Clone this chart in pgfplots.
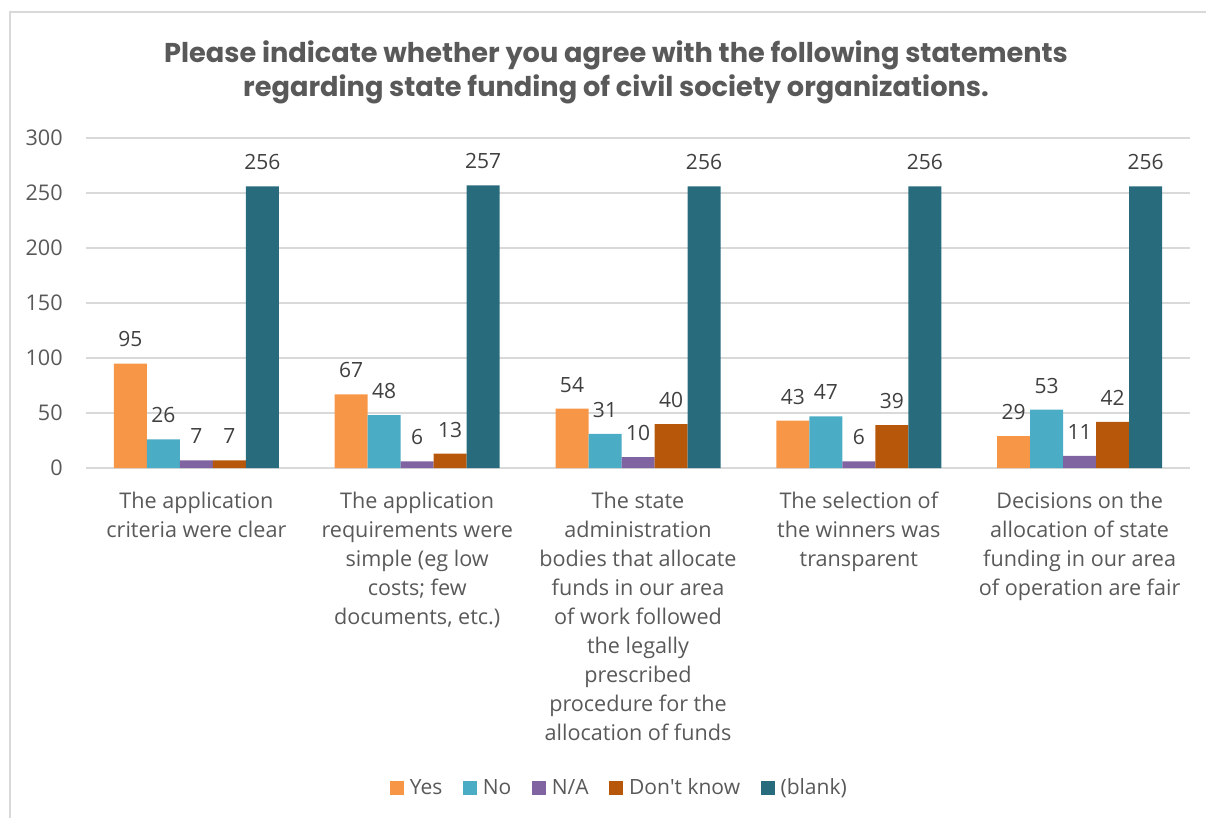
\documentclass[border=0pt]{standalone}
\usepackage{pgfplots}
\pgfplotsset{compat=1.18}
\usepackage{fontspec}
\setmainfont{Open Sans}
\newfontfamily\titlefont{Poppins}

\definecolor{cYes}{HTML}{F79646}
\definecolor{cNo}{HTML}{4BACC6}
\definecolor{cNA}{HTML}{8064A2}
\definecolor{cDK}{HTML}{B7570A}
\definecolor{cBlank}{HTML}{276B7C}
\definecolor{txt}{HTML}{595959}
\definecolor{lbl}{HTML}{404040}
\definecolor{grd}{HTML}{D9D9D9}

\begin{document}
\begin{tikzpicture}
% picture frame: 1 px of the reference = 0.5bp, plot corner at px (86,468)
\useasboundingbox (-43bp,-175bp) rectangle (560bp,234bp);
\draw[grd, line width=0.8bp] (-38bp,-180bp) -- (-38bp,228bp) -- (570bp,228bp);

\node[font={\titlefont\bfseries\fontsize{13.6bp}{17bp}\selectfont}, text=txt, align=center]
  at (265bp,198bp) {Please indicate whether you agree with the following statements\\regarding state funding of civil society organizations.};

\begin{axis}[
    at={(0,0)}, anchor=south west,
    scale only axis,
    width=552bp, height=165bp,
    ybar=0pt, bar width=16.5bp,
    xmin=-0.5, xmax=4.5,
    ymin=0, ymax=300,
    ytick={0,50,...,300},
    xtick=data,
    xticklabels={
      {The application\\criteria were clear},
      {The application\\requirements were\\simple (eg low\\costs; few\\documents, etc.)},
      {The state\\administration\\bodies that allocate\\funds in our area\\of work followed\\the legally\\prescribed\\procedure for the\\allocation of funds},
      {The selection of\\the winners was\\transparent},
      {Decisions on the\\allocation of state\\funding in our area\\of operation are fair}},
    major tick length=0pt,
    axis line style={draw=none},
    ymajorgrids, grid style={grd, line width=0.8bp},
    /pgf/number format/assume math mode=true,
    tick label style={text=txt, font=\fontsize{10.8bp}{14.5bp}\selectfont},
    yticklabel style={anchor=east, inner sep=0pt, xshift=-11.5bp},
    xticklabel style={anchor=north, inner sep=0pt, yshift=-12bp, align=center},
    nodes near coords,
    every node near coord/.append style={text=lbl, font=\fontsize{10.5bp}{12bp}\selectfont, anchor=south, inner sep=0pt, yshift=8bp},
    legend columns=5,
    legend style={draw=none, at={(0.484,-0.97)}, anchor=center,
      font=\fontsize{10.5bp}{12bp}\selectfont, text=txt,
      /tikz/every odd column/.append style={column sep=1bp},
      /tikz/every even column/.append style={column sep=8.25bp}},
    legend image code/.code={\fill[#1] (0bp,-3.5bp) rectangle (7bp,3.5bp);},
]
\addplot[fill=cYes, draw=none] coordinates {(0,95) (1,67) (2,54) (3,43) (4,29)};
\addplot[fill=cNo, draw=none] coordinates {(0,26) (1,48) (2,31) (3,47) (4,53)};
\addplot[fill=cNA, draw=none] coordinates {(0,7) (1,6) (2,10) (3,6) (4,11)};
\addplot[fill=cDK, draw=none] coordinates {(0,7) (1,13) (2,40) (3,39) (4,42)};
\addplot[fill=cBlank, draw=none] coordinates {(0,256) (1,257) (2,256) (3,256) (4,256)};
\legend{Yes, No, N/A, Don\textquotesingle t know, (blank)}
\end{axis}
\end{tikzpicture}
\end{document}
